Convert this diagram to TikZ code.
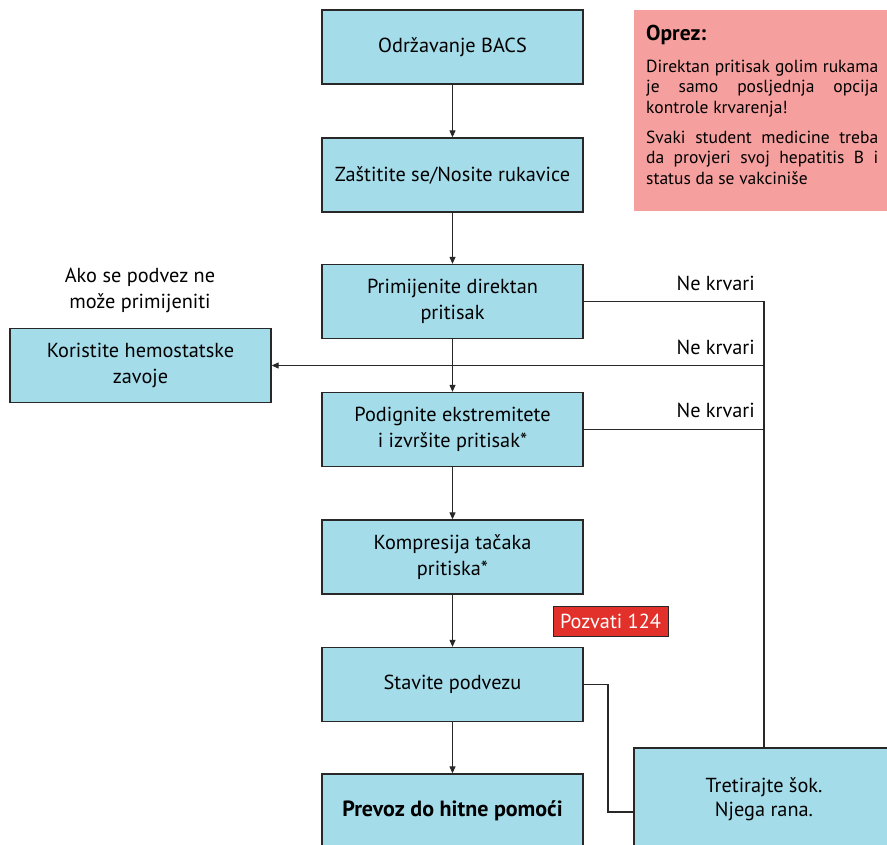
\documentclass[tikz,border=0pt]{standalone}
\usepackage{fontspec}
\setmainfont{PT Sans}
\usetikzlibrary{arrows.meta}
\definecolor{boxcyan}{RGB}{164,220,234}
\definecolor{warnpink}{RGB}{245,160,158}
\definecolor{callred}{RGB}{226,48,42}
\definecolor{linegray}{RGB}{40,40,40}
\tikzset{
  stepbox/.style={draw=linegray, line width=1.3pt, fill=boxcyan, minimum width=261pt, minimum height=74pt, align=center, font=\fontsize{20.3}{25.5}\selectfont, inner sep=0pt},
  conn/.style={draw=linegray, line width=1.1pt},
  arr/.style={conn, -{Triangle[length=7pt,width=6pt]}},
  lbl/.style={font=\fontsize{20.3}{26}\selectfont, inner sep=0pt},
}
\begin{document}
\begin{tikzpicture}[x=1pt,y=-1pt]
\useasboundingbox (0,0) rectangle (887,845);
\clip (0,0) rectangle (887,845);
% caution box
\fill[warnpink] (634,10) rectangle (895,211);
\node[anchor=west, font=\fontsize{21.5}{22}\selectfont\bfseries, inner sep=0pt] (optitle) at (646,35) {Oprez:};
\node[anchor=north west, inner sep=0pt, align=left, font=\fontsize{17.5}{20.3}\selectfont] (optext) at (646,60) {%
\makebox[232pt][s]{Direktan pritisak golim rukama}\\
\makebox[232pt][s]{je samo posljednja opcija}\\
kontrole krvarenja!\\[10pt]
\makebox[232pt][s]{Svaki student medicine treba}\\
\makebox[232pt][s]{da provjeri svoj hepatitis B i}\\
status da se vakciniše};
% main boxes
\node[stepbox] (b1) at (452.5,47) {Održavanje BACS};
\node[stepbox] (b2) at (452.5,175) {Zaštitite se/Nosite rukavice};
\node[stepbox] (b3) at (452.5,301.5) {Primijenite direktan\\pritisak};
\node[stepbox] (b4) at (452.5,429.5) {Podignite ekstremitete\\i izvršite pritisak*};
\node[stepbox] (b5) at (452.5,557) {Kompresija tačaka\\pritiska*};
\node[stepbox] (b6) at (452.5,684.5) {Stavite podvezu};
\node[stepbox, font=\fontsize{22}{25}\selectfont\bfseries] (b7) at (452.5,811) {Prevoz do hitne pomoći};
\node[stepbox] (hem) at (140.5,365.5) {Koristite hemostatske\\zavoje};
\node[stepbox, minimum width=260pt, minimum height=102pt, font=\fontsize{20.3}{24.5}\selectfont] (tr) at (764,799) {Tretirajte šok.\\Njega rana.};
\node[fill=callred, draw=linegray, line width=0.8pt, text=white, minimum width=115pt, minimum height=30pt, inner sep=0pt, font=\fontsize{20.3}{22}\selectfont] (call) at (610.5,621) {Pozvati 124};
% labels
\node[lbl, align=center] (ako) at (140,290) {Ako se podvez ne\\može primijeniti};
\node[lbl, anchor=east] (nk1) at (755,283) {Ne krvari};
\node[lbl, anchor=east] (nk2) at (755,347) {Ne krvari};
\node[lbl, anchor=east] (nk3) at (755,410) {Ne krvari};
% connectors
\draw[arr] (b1) -- (b2);
\draw[arr] (b2) -- (b3);
\draw[arr] (b3) -- (b4);
\draw[arr] (b4) -- (b5);
\draw[arr] (b5) -- (b6);
\draw[arr] (b6) -- (b7);
\draw[conn] (b3.east) -| (tr.north);
\draw[arr] (tr.north |- hem.east) -- (hem.east);
\draw[conn] (b4.east) -- (tr.north |- b4.east);
\coordinate (kn) at (608,812);
\draw[conn] (b6.east) -| (kn) -- (kn -| tr.west);
\end{tikzpicture}
\end{document}
